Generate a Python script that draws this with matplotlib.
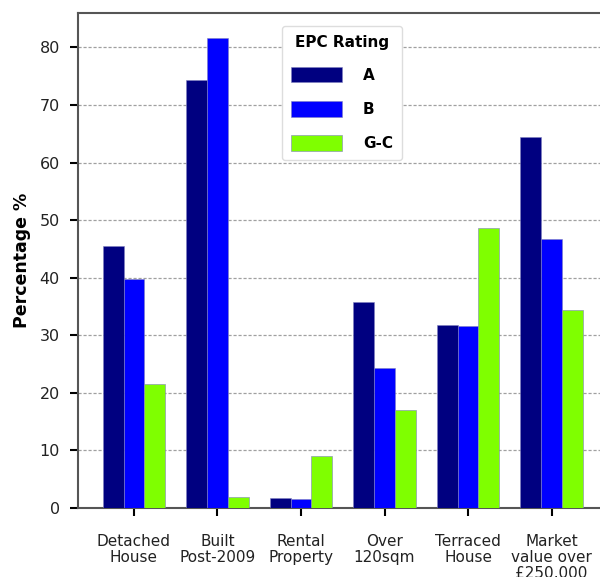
import numpy as np
import matplotlib
matplotlib.use("Agg")
from matplotlib import pyplot as plt

# data
categories = ["Detached\nHouse", "Built\nPost-2009", "Rental\nProperty",
              "Over\n120sqm", "Terraced\nHouse", "Market\nvalue over\n£250,000"]
rating_a = [45.5, 74.4, 1.7, 35.7, 31.8, 64.4]
rating_b = [39.7, 81.7, 1.5, 24.3, 31.6, 46.7]
rating_gc = [21.5, 1.9, 9.0, 17.0, 48.6, 34.4]
series_names = ["A", "B", "G-C"]
colors = ["#000080", "#0000FF", "#7FFF00"]

plt.rcParams['font.family'] = ['DejaVu Sans']

fig = plt.figure(figsize=(6, 5.77), dpi=100)
ax = fig.add_axes([0.13, 0.1196, 0.87, 0.858])

x = np.arange(len(categories))
w = 0.25
for i, (vals, name, c) in enumerate(zip([rating_a, rating_b, rating_gc], series_names, colors)):
    ax.bar(x + (i - 1) * w, vals, w, color=c, label=name, edgecolor="#8080c0", linewidth=0.4, zorder=3)

ax.set_xlim(-0.67, 5.58)
ax.set_ylim(0, 86)
ax.set_yticks(range(0, 81, 10))
ax.set_xticks(x)
ax.set_xticklabels(categories, fontsize=11, linespacing=1.05, color="#222222")
ax.tick_params(axis="y", labelsize=11.5, labelcolor="#222222", direction="out", length=6, width=1.5, pad=7)
ax.tick_params(axis="x", direction="out", length=6, width=1.5, pad=13)
ax.yaxis.grid(True, linestyle=(0, (2.5, 1.5)), color="#a0a0a0", linewidth=0.9, zorder=0)
ax.set_axisbelow(True)
for s in ["left", "top", "bottom"]:
    ax.spines[s].set_color("#555555")
    ax.spines[s].set_linewidth(1.5)
ax.spines["right"].set_visible(False)
ax.set_ylabel("Percentage %", fontsize=12.5, fontweight="bold", labelpad=6)

leg = ax.legend(title="EPC Rating", loc="upper left", bbox_to_anchor=(0.391, 0.974),
                borderaxespad=0, handlelength=3.3, handleheight=1.2, handletextpad=1.4,
                labelspacing=1.2, borderpad=0.6,
                prop={"weight": "bold", "size": 11}, title_fontproperties={"weight": "bold", "size": 11},
                edgecolor="#dddddd", framealpha=1)
leg._legend_box.sep = 12

plt.savefig("out.png", dpi=100)
